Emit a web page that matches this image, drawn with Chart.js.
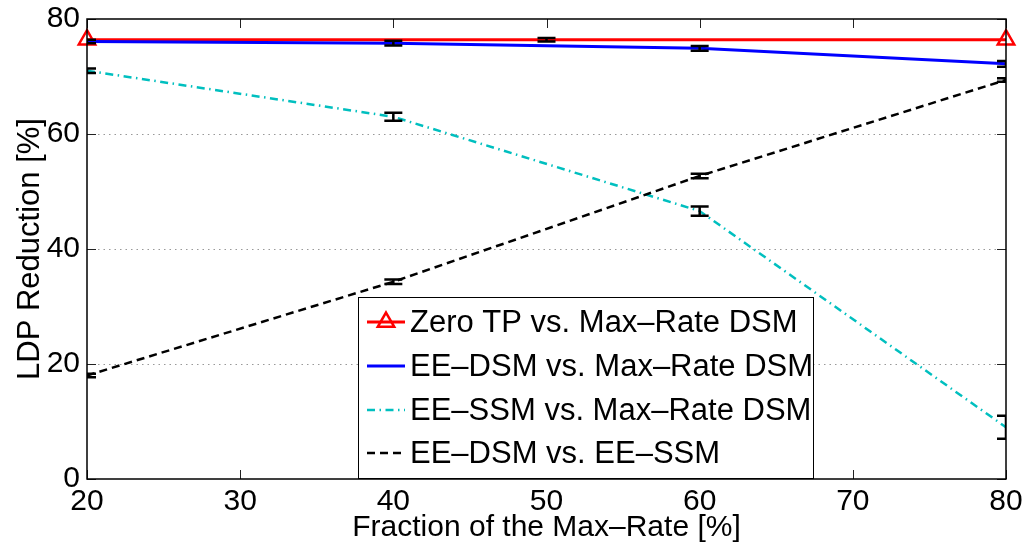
<!DOCTYPE html>
<html>
<head>
<meta charset="utf-8">
<script src="https://cdn.jsdelivr.net/npm/chart.js@4.4.0/dist/chart.umd.min.js"></script>
<style>
  html, body { margin: 0; padding: 0; background: #fff; }
  #wrap { width: 1026px; height: 552px; }
</style>
</head>
<body>
<div id="wrap"><canvas id="c" width="1026" height="552"></canvas></div>
<script>
// ---- data ----
const xTicks = [20, 30, 40, 50, 60, 70, 80];
const yTicks = [0, 20, 40, 60, 80];

const zeroTpX   = [20, 50, 80];
const zeroTpY   = [76.4, 76.4, 76.4];
const zeroTpErr = [0, 0.3, 0];

const eeDsmX   = [20, 40, 60, 80];
const eeDsmY   = [76.1, 75.8, 74.9, 72.2];
const eeDsmErr = [0.3, 0.4, 0.4, 0.5];

const eeSsmX   = [20, 40, 60, 80];
const eeSsmY   = [71.0, 63.0, 46.6, 9.0];
const eeSsmErr = [0.4, 0.7, 0.8, 2.0];

const dsmSsmX   = [20, 40, 60, 80];
const dsmSsmY   = [18.0, 34.3, 52.7, 69.4];
const dsmSsmErr = [0.3, 0.4, 0.4, 0.3];

const seriesLabels = [
  'Zero TP vs. Max\u2013Rate DSM',
  'EE\u2013DSM vs. Max\u2013Rate DSM',
  'EE\u2013SSM vs. Max\u2013Rate DSM',
  'EE\u2013DSM vs. EE\u2013SSM'
];

const FONT = '"Liberation Sans", Arial, Helvetica, sans-serif';
const RED = '#ff0000', BLUE = '#0000ff', CYAN = '#00bfbf', BLACK = '#000000';

function pts(xs, ys) { return xs.map((x, i) => ({ x: x, y: ys[i] })); }

const datasets = [
  {
    label: seriesLabels[0], data: pts(zeroTpX, zeroTpY), errors: zeroTpErr,
    borderColor: RED, borderWidth: 3, pointStyle: 'triangle',
    pointRadius: zeroTpX.map(x => (x === 50 ? 0 : 9.5)),
    pointBorderColor: RED, pointBackgroundColor: 'rgba(0,0,0,0)', pointBorderWidth: 2.5,
    clip: false, order: 4, sample: 'tri'
  },
  {
    label: seriesLabels[1], data: pts(eeDsmX, eeDsmY), errors: eeDsmErr,
    borderColor: BLUE, borderWidth: 3, pointRadius: 0, order: 3
  },
  {
    label: seriesLabels[2], data: pts(eeSsmX, eeSsmY), errors: eeSsmErr,
    borderColor: CYAN, borderWidth: 2.5, borderDash: [8, 4.5, 1.5, 4.5], pointRadius: 0, order: 2
  },
  {
    label: seriesLabels[3], data: pts(dsmSsmX, dsmSsmY), errors: dsmSsmErr,
    borderColor: BLACK, borderWidth: 2.5, borderDash: [8, 5], pointRadius: 0, order: 1
  }
];

// error bars, box, inward ticks
const decorPlugin = {
  id: 'decor',
  afterDatasetsDraw(chart) {
    const { ctx, chartArea: a, scales: { x, y } } = chart;
    ctx.save();
    ctx.beginPath();
    ctx.rect(a.left, a.top, a.right - a.left, a.bottom - a.top);
    ctx.clip();
    ctx.strokeStyle = '#000';
    ctx.lineWidth = 2.5;
    chart.data.datasets.forEach(ds => {
      if (!ds.errors) return;
      ds.data.forEach((p, i) => {
        const e = ds.errors[i];
        if (!e) return;
        const px = x.getPixelForValue(p.x);
        const y1 = y.getPixelForValue(p.y + e);
        const y2 = y.getPixelForValue(p.y - e);
        const cw = 9;
        ctx.beginPath();
        ctx.moveTo(px, y1); ctx.lineTo(px, y2);
        ctx.moveTo(px - cw, y1); ctx.lineTo(px + cw, y1);
        ctx.moveTo(px - cw, y2); ctx.lineTo(px + cw, y2);
        ctx.stroke();
      });
    });
    ctx.restore();
  },
  afterDraw(chart) {
    const { ctx, chartArea: a, scales: { x, y } } = chart;
    ctx.save();
    // inward ticks
    ctx.strokeStyle = '#222';
    ctx.lineWidth = 1;
    const tl = 9;
    xTicks.forEach(v => {
      const px = Math.round(x.getPixelForValue(v)) + 0.5;
      ctx.beginPath();
      ctx.moveTo(px, a.bottom); ctx.lineTo(px, a.bottom - tl);
      ctx.moveTo(px, a.top); ctx.lineTo(px, a.top + tl);
      ctx.stroke();
    });
    yTicks.forEach(v => {
      const py = Math.round(y.getPixelForValue(v)) + 0.5;
      ctx.beginPath();
      ctx.moveTo(a.left, py); ctx.lineTo(a.left + tl, py);
      ctx.moveTo(a.right, py); ctx.lineTo(a.right - tl, py);
      ctx.stroke();
    });
    // box
    ctx.strokeStyle = '#000';
    ctx.lineWidth = 1.5;
    ctx.strokeRect(a.left, a.top, a.right - a.left, a.bottom - a.top);

    // legend
    const L = a.left + 271, T = a.top + 278, R = a.left + 726, B = a.bottom - 1;
    ctx.fillStyle = '#fff';
    ctx.fillRect(L, T, R - L, B - T);
    ctx.strokeStyle = '#000';
    ctx.lineWidth = 1;
    ctx.strokeRect(L + 0.5, T + 0.5, R - L, B - T);
    const rowY = [25, 69, 113, 156];
    ctx.font = '31px ' + FONT;
    ctx.textBaseline = 'middle';
    chart.data.datasets.forEach((ds, i) => {
      const cy = T + rowY[i];
      const x0 = L + 9, x1 = L + 47;
      ctx.save();
      ctx.strokeStyle = ds.borderColor;
      ctx.lineWidth = ds.borderWidth;
      ctx.setLineDash(ds.borderDash || []);
      ctx.beginPath();
      ctx.moveTo(x0, cy); ctx.lineTo(x1, cy);
      ctx.stroke();
      ctx.restore();
      if (ds.sample === 'tri') {
        const cx = (x0 + x1) / 2, r = 9.5;
        ctx.save();
        ctx.strokeStyle = RED;
        ctx.lineWidth = 2.5;
        ctx.beginPath();
        ctx.moveTo(cx, cy - r);
        ctx.lineTo(cx + r * Math.sqrt(3) / 2, cy + r / 2);
        ctx.lineTo(cx - r * Math.sqrt(3) / 2, cy + r / 2);
        ctx.closePath();
        ctx.stroke();
        ctx.restore();
      }
      ctx.fillStyle = '#000';
      ctx.textAlign = 'left';
      ctx.fillText(ds.label, L + 52, cy + 1);
    });
    ctx.restore();
  }
};

new Chart(document.getElementById('c'), {
  type: 'line',
  data: { datasets: datasets },
  options: {
    responsive: false,
    animation: false,
    layout: { padding: { left: 0, top: 19, right: 20, bottom: 0 } },
    plugins: { legend: { display: false }, tooltip: { enabled: false } },
    elements: { line: { tension: 0 } },
    scales: {
      x: {
        type: 'linear', min: 20, max: 80,
        afterFit(s) { s.height = 73; s.paddingRight = 0; s.paddingLeft = 0; },
        afterBuildTicks(s) { s.ticks = xTicks.map(v => ({ value: v })); },
        ticks: { color: '#000', padding: 8, font: { family: FONT, size: 30, lineHeight: 1 }, maxRotation: 0 },
        grid: { display: false, drawTicks: false },
        border: { display: false },
        title: {
          display: true, text: 'Fraction of the Max\u2013Rate [%]', color: '#000',
          font: { family: FONT, size: 30 }, padding: { top: 0, bottom: 6 }
        }
      },
      y: {
        type: 'linear', min: 0, max: 80,
        afterFit(s) { s.width = 87; s.paddingTop = 0; s.paddingBottom = 0; },
        afterBuildTicks(s) { s.ticks = yTicks.map(v => ({ value: v })); },
        ticks: { color: '#000', padding: 7, font: { family: FONT, size: 30, lineHeight: 1 } },
        grid: {
          drawTicks: false, lineWidth: 1,
          color: ctx => (ctx.tick && (ctx.tick.value === 0 || ctx.tick.value === 80)) ? 'rgba(0,0,0,0)' : '#999'
        },
        border: { display: false, dash: [1.5, 4] },
        title: {
          display: true, text: 'LDP Reduction [%]', color: '#000',
          font: { family: FONT, size: 31 }, padding: { top: 12, bottom: 0 }
        }
      }
    }
  },
  plugins: [decorPlugin]
});
</script>
</body>
</html>
